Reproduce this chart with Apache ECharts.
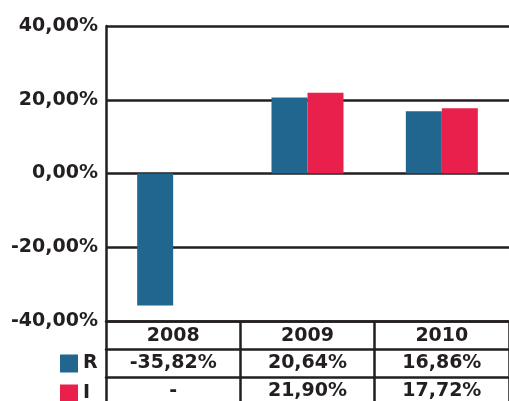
<!DOCTYPE html>
<html>
<head>
<meta charset="utf-8">
<script src="https://cdn.jsdelivr.net/npm/echarts@6/dist/echarts.min.js"></script>
<style>
html,body{margin:0;padding:0;background:#fff;}
#chart{width:509px;height:401px;}
</style>
</head>
<body>
<div id="chart"></div>
<script>
var categories = ['2008', '2009', '2010'];
var seriesNames = ['R', 'I'];
var rValues = [-35.82, 20.64, 16.86];
var iValues = [null, 21.90, 17.72];
var yMin = -40, yMax = 40, yStep = 20;

var ink = '#231f20';
var fontFam = 'DejaVu Sans';
function fmt(v) {
  if (v === null || v === undefined) return '-';
  return v.toFixed(2).replace('.', ',') + '%';
}
var labelStyle = {fontFamily: fontFam, fontWeight: 'bold', fontSize: 19, color: ink, lineHeight: 20};
var lw = 2.5;

function legendFor(name, top) {
  return {
    data: [name],
    left: 60,
    top: top,
    padding: 0,
    itemWidth: 18,
    itemHeight: 18,
    icon: 'rect',
    textStyle: {fontFamily: fontFam, fontWeight: 'bold', fontSize: 19, color: ink, lineHeight: 18}
  };
}

var chart = echarts.init(document.getElementById('chart'), null, {renderer: 'canvas'});
chart.setOption({
  animation: false,
  backgroundColor: '#fff',
  color: ['#21668f', '#e9204b'],
  grid: {left: 106, top: 26, width: 409, height: 296, containLabel: false},
  legend: [legendFor(seriesNames[0], 354), legendFor(seriesNames[1], 384)],
  xAxis: [
    {
      type: 'category', data: categories, position: 'bottom',
      axisLine: {show: true, onZero: false, lineStyle: {color: ink, width: lw}},
      axisTick: {show: true, interval: 0, length: 85, lineStyle: {color: ink, width: lw}},
      axisLabel: Object.assign({margin: 5, interval: 0}, labelStyle)
    },
    {
      type: 'category', data: categories, position: 'bottom', offset: 28,
      axisLine: {show: true, onZero: false, lineStyle: {color: ink, width: lw}},
      axisTick: {show: false},
      axisLabel: Object.assign({margin: 4, interval: 0, formatter: function (v, i) { return fmt(rValues[i]); }}, labelStyle)
    },
    {
      type: 'category', data: categories, position: 'bottom', offset: 56,
      axisLine: {show: true, onZero: false, lineStyle: {color: ink, width: lw}},
      axisTick: {show: false},
      axisLabel: Object.assign({margin: 4, interval: 0, formatter: function (v, i) { return fmt(iValues[i]); }}, labelStyle)
    }
  ],
  yAxis: {
    type: 'value', min: yMin, max: yMax, interval: yStep,
    axisLine: {show: true, lineStyle: {color: ink, width: lw}},
    axisTick: {show: false},
    splitLine: {show: true, lineStyle: {color: ink, width: lw}},
    axisLabel: Object.assign({margin: 8, formatter: function (v) { return fmt(v); }}, labelStyle)
  },
  series: [
    {name: seriesNames[0], type: 'bar', data: rValues, barWidth: 36, barGap: '0%', xAxisIndex: 0},
    {name: seriesNames[1], type: 'bar', data: iValues, barWidth: 36, barGap: '0%', xAxisIndex: 0}
  ]
});
</script>
</body>
</html>
